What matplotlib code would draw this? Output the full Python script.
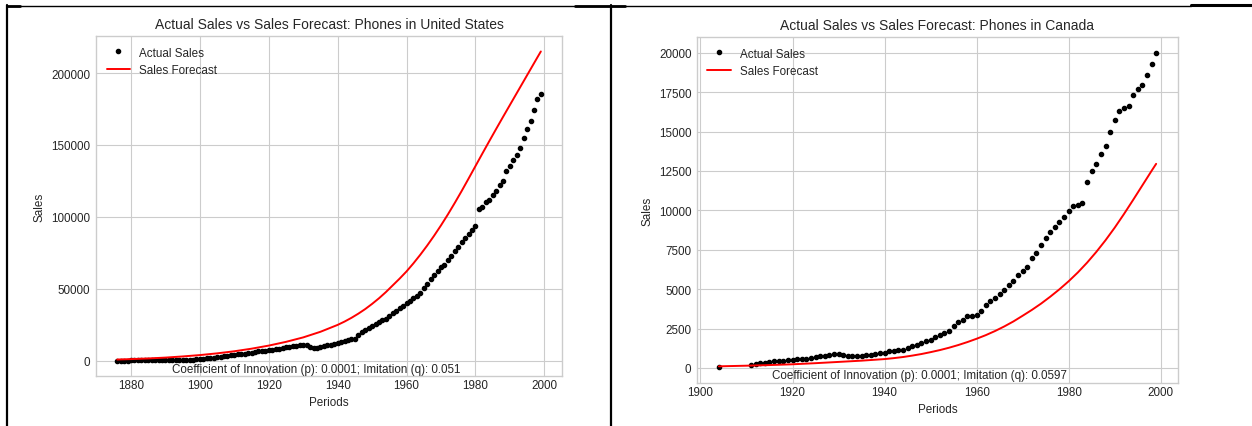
import numpy as np
import matplotlib
matplotlib.use("Agg")
import matplotlib.pyplot as plt
from matplotlib.lines import Line2D

plt.style.use("seaborn-v0_8-whitegrid")
plt.rcParams['font.family'] = ['Liberation Sans', 'DejaVu Sans']
plt.rcParams['text.color'] = '.15'
plt.rcParams['axes.labelcolor'] = '.15'
plt.rcParams['xtick.color'] = '.15'
plt.rcParams['ytick.color'] = '.15'

# United States: yearly actual sales 1876-1999
us_years = list(range(1876, 2000))
us_actual = [
    0, 10, 25, 30, 50, 70, 100, 120, 150, 160,
    170, 180, 200, 210, 230, 240, 260, 270, 290, 340,
    400, 500, 650, 850, 1000, 1300, 1600, 1900, 2100, 2400,
    2800, 3100, 3400, 3700, 4000, 4300, 4600, 4900, 5200, 5500,
    5900, 6300, 6600, 6900, 7200, 7500, 7900, 8300, 8800, 9200,
    9600, 10000, 10400, 10700, 10800, 10600, 9500, 8700, 9000, 9500,
    10000, 10600, 10900, 11400, 12200, 13000, 13900, 14400, 14700, 15200,
    17600, 19800, 21500, 22800, 24200, 25500, 26800, 28000, 29200, 30800,
    32800, 34700, 36300, 38000, 39800, 41600, 43300, 45000, 47200, 50300,
    53400, 56400, 59300, 62200, 65000, 66500, 69800, 73000, 76000, 79200,
    82200, 85000, 88000, 91000, 93800, 105500, 107100, 110000, 111800, 115300,
    118100, 122300, 125100, 131600, 135100, 139300, 142800, 148000, 154500, 160800,
    166600, 174600, 181800, 185300,
]
us_fc_years = [1876, 1880, 1885, 1890, 1895, 1900, 1905, 1910, 1915, 1920,
               1925, 1930, 1935, 1940, 1942, 1944, 1946, 1948, 1950, 1952,
               1954, 1956, 1958, 1960, 1962, 1964, 1966, 1968, 1970, 1972,
               1974, 1976, 1978, 1980, 1982, 1984, 1986, 1988, 1990, 1992,
               1994, 1996, 1998, 1999]
us_forecast = [700, 1000, 1450, 2050, 2850, 3800, 5000, 6450, 8250, 10400,
               13000, 16100, 20000, 24800, 27100, 29700, 32600, 35800, 39400, 43300,
               47600, 52300, 57000, 62000, 67600, 73600, 80000, 86800, 94000, 101600,
               109600, 117900, 126500, 135200, 143900, 152500, 161000, 169400, 177700, 186000,
               194300, 202600, 210900, 215000]

# Canada: 1904, then 1911-1999
ca_years = [1904] + list(range(1911, 2000))
ca_actual = [
    40,
    210, 250, 300, 340, 360, 420, 460, 460, 500,
    530, 550, 570, 580, 630, 700, 740, 770, 840, 900,
    880, 800, 760, 760, 760, 770, 800, 840, 880, 930,
    970, 1050, 1080, 1120, 1160, 1270, 1370, 1470, 1580, 1690,
    1790, 1940, 2070, 2210, 2320, 2640, 2910, 3060, 3270, 3270,
    3330, 3590, 4010, 4220, 4430, 4680, 4960, 5270, 5530, 5900,
    6160, 6430, 6960, 7320, 7800, 8270, 8600, 8950, 9280, 9560,
    9980, 10300, 10350, 10450, 11800, 12500, 12950, 13550, 14100, 14950,
    15700, 16300, 16500, 16650, 17300, 17700, 17950, 18600, 19300, 20000,
]
ca_fc_years = [1904, 1910, 1915, 1920, 1925, 1930, 1935, 1940, 1942, 1944,
               1946, 1948, 1950, 1952, 1954, 1956, 1958, 1960, 1962, 1964,
               1966, 1968, 1970, 1972, 1974, 1976, 1978, 1980, 1982, 1984,
               1986, 1988, 1990, 1992, 1994, 1996, 1998, 1999]
ca_forecast = [100, 140, 180, 230, 300, 380, 460, 560, 620, 690,
               780, 880, 1000, 1130, 1280, 1450, 1640, 1850, 2080, 2340,
               2630, 2950, 3310, 3680, 4080, 4520, 4990, 5500, 6060, 6680,
               7360, 8100, 8900, 9760, 10660, 11580, 12500, 12950]

panels = [
    ("United States", us_years, us_actual, us_fc_years, us_forecast, "0.051",
     [0.0767, 0.1171, 0.3722, 0.7962], 0.472),
    ("Canada", ca_years, ca_actual, ca_fc_years, ca_forecast, "0.0597",
     [0.5567, 0.1007, 0.3842, 0.8103], 0.462),
]

fig = plt.figure(figsize=(12.52, 4.27), dpi=100)
fs = 8.4

for country, yrs, act, fyrs, fc, q, pos, tx in panels:
    ax = fig.add_axes(pos)
    ax.plot(yrs, act, 'k.', markersize=6, label="Actual Sales")
    ax.plot(fyrs, fc, color='red', linewidth=1.4, label="Sales Forecast")
    ax.set_title("Actual Sales vs Sales Forecast: Phones in " + country, fontsize=10, pad=6)
    ax.set_xlabel("Periods", fontsize=fs, labelpad=4)
    ax.set_ylabel("Sales", fontsize=fs, labelpad=4)
    ax.tick_params(axis='x', labelsize=fs, length=0, pad=2)
    ax.tick_params(axis='y', labelsize=fs, length=0, pad=4)
    ax.legend(loc='upper left', fontsize=fs, frameon=False)
    ax.text(tx, 0.022, "Coefficient of Innovation (p): 0.0001; Imitation (q): " + q,
            transform=ax.transAxes, ha='center', va='center', fontsize=fs)
    for s in ax.spines.values():
        s.set_color('.8')

# table-cell borders around the two charts
W, H = 1252.0, 427.0
def border(x0, y0, x1, y1, lw):
    fig.add_artist(Line2D([x0 / W, x1 / W], [1 - y0 / H, 1 - y1 / H],
                          color='black', linewidth=lw, transform=fig.transFigure))

border(7, 6.5, 1191, 6.5, 1.0)
border(7, 6.5, 20, 6.5, 2.0)
border(575, 6.5, 625, 6.5, 2.0)
border(1191, 6, 1252, 6, 2.2)
border(7, 6, 7, 427, 1.6)
border(611, 6, 611, 427, 1.6)

fig.savefig("out.png", dpi=100)
